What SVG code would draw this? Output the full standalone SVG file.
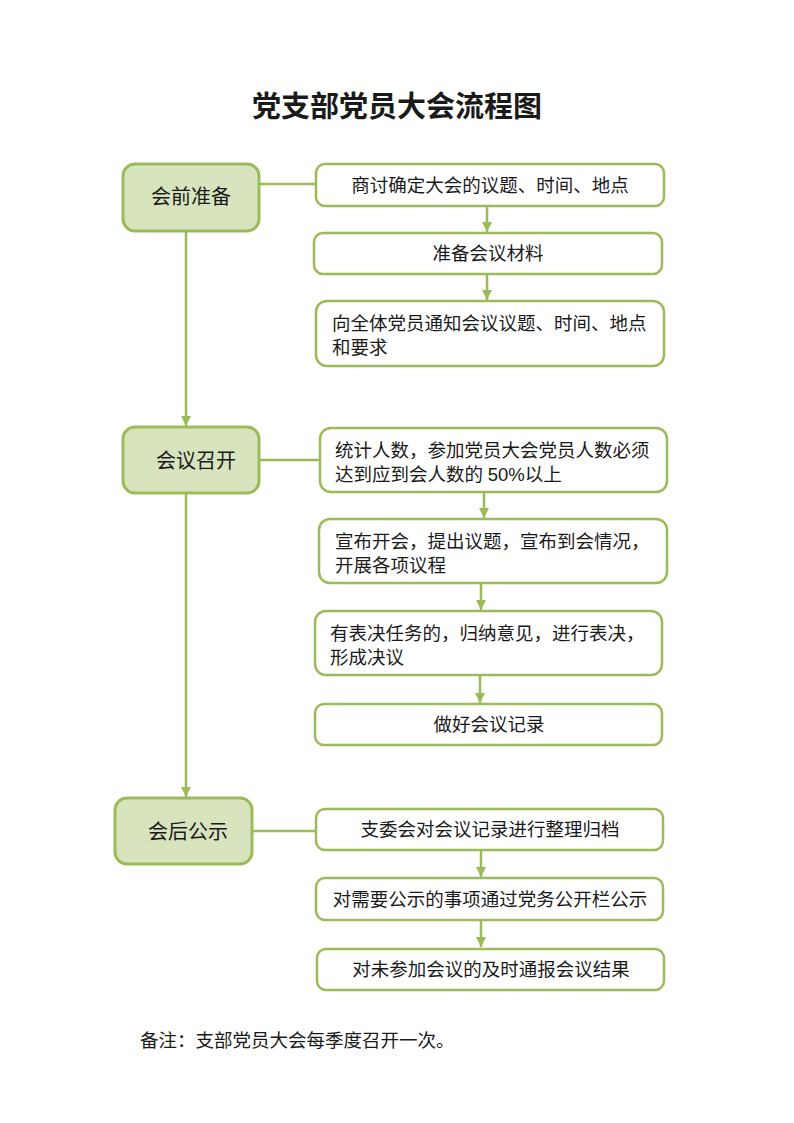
<svg xmlns="http://www.w3.org/2000/svg" width="794" height="1123" viewBox="0 0 794 1123">
<style>
.main rect{fill:#d7e4bd;stroke:#9bbb59;stroke-width:3}
.step rect{fill:#ffffff;stroke:#9bbb59;stroke-width:2.5}
text{font-family:"Liberation Serif","Noto Sans CJK SC",serif;fill:#1a1a1a}
.t{font-size:18.5px}
.m{font-size:20px}
.c{text-anchor:middle}
.lat{font-family:"Liberation Sans","Noto Sans CJK SC",sans-serif}
#connectors line{stroke:#9bbb59;stroke-width:2.5}
</style>
<defs>
<marker id="ah" viewBox="0 0 10 10" refX="10" refY="5" markerWidth="4" markerHeight="4" orient="auto" markerUnits="strokeWidth">
<path d="M0,0 L10,5 L0,10 z" fill="#9bbb59"/>
</marker>
</defs>
<rect width="794" height="1123" fill="#ffffff"/>
<text x="397" y="117" class="c" style="font-size:29px;font-weight:bold">党支部党员大会流程图</text>

<g id="connectors">
<line x1="259" y1="184" x2="316" y2="184"/>
<line x1="487" y1="206" x2="487" y2="232" marker-end="url(#ah)"/>
<line x1="487" y1="274" x2="487" y2="300" marker-end="url(#ah)"/>
<line x1="186" y1="231" x2="186" y2="426" marker-end="url(#ah)"/>
<line x1="259" y1="460" x2="320" y2="460"/>
<line x1="484" y1="492" x2="484" y2="518" marker-end="url(#ah)"/>
<line x1="481" y1="583" x2="481" y2="610" marker-end="url(#ah)"/>
<line x1="480" y1="675" x2="480" y2="703" marker-end="url(#ah)"/>
<line x1="186" y1="493" x2="186" y2="797" marker-end="url(#ah)"/>
<line x1="252" y1="831" x2="316" y2="831"/>
<line x1="481" y1="850" x2="481" y2="877" marker-end="url(#ah)"/>
<line x1="481" y1="920" x2="481" y2="947" marker-end="url(#ah)"/>
</g>

<g id="n1" class="main"><rect x="123" y="164" width="136" height="67" rx="12"/><text x="191" y="204" class="m c">会前准备</text></g>
<g id="a1" class="step"><rect x="316" y="164" width="348" height="42" rx="9"/><text x="490" y="192" class="t c">商讨确定大会的议题、时间、地点</text></g>
<g id="a2" class="step"><rect x="314" y="233" width="348" height="41" rx="9"/><text x="488" y="260" class="t c">准备会议材料</text></g>
<g id="a3" class="step"><rect x="316" y="301" width="348" height="65" rx="11"/><text x="332" y="330" class="t">向全体党员通知会议议题、时间、地点</text><text x="332" y="354" class="t">和要求</text></g>

<g id="n2" class="main"><rect x="123" y="427" width="136" height="66" rx="12"/><text x="196" y="468" class="m c">会议召开</text></g>
<g id="b1" class="step"><rect x="320" y="428" width="347" height="64" rx="11"/><text x="335" y="457" class="t">统计人数，参加党员大会党员人数必须</text><text x="335" y="481" class="t">达到应到会人数的 <tspan class="lat">50%</tspan>以上</text></g>
<g id="b2" class="step"><rect x="319" y="519" width="348" height="64" rx="11"/><text x="335" y="548" class="t">宣布开会，提出议题，宣布到会情况，</text><text x="335" y="572" class="t">开展各项议程</text></g>
<g id="b3" class="step"><rect x="315" y="611" width="347" height="64" rx="11"/><text x="330" y="640" class="t">有表决任务的，归纳意见，进行表决，</text><text x="330" y="664" class="t">形成决议</text></g>
<g id="b4" class="step"><rect x="315" y="704" width="347" height="41" rx="9"/><text x="489" y="731" class="t c">做好会议记录</text></g>

<g id="n3" class="main"><rect x="115" y="798" width="137" height="66" rx="12"/><text x="188" y="839" class="m c">会后公示</text></g>
<g id="c1" class="step"><rect x="316" y="809" width="347" height="41" rx="9"/><text x="490" y="836" class="t c">支委会对会议记录进行整理归档</text></g>
<g id="c2" class="step"><rect x="316" y="878" width="347" height="42" rx="9"/><text x="490" y="906" class="t c">对需要公示的事项通过党务公开栏公示</text></g>
<g id="c3" class="step"><rect x="317" y="949" width="347" height="41" rx="9"/><text x="491" y="976" class="t c">对未参加会议的及时通报会议结果</text></g>

<text x="140" y="1047" class="t">备注：支部党员大会每季度召开一次。</text>
</svg>
